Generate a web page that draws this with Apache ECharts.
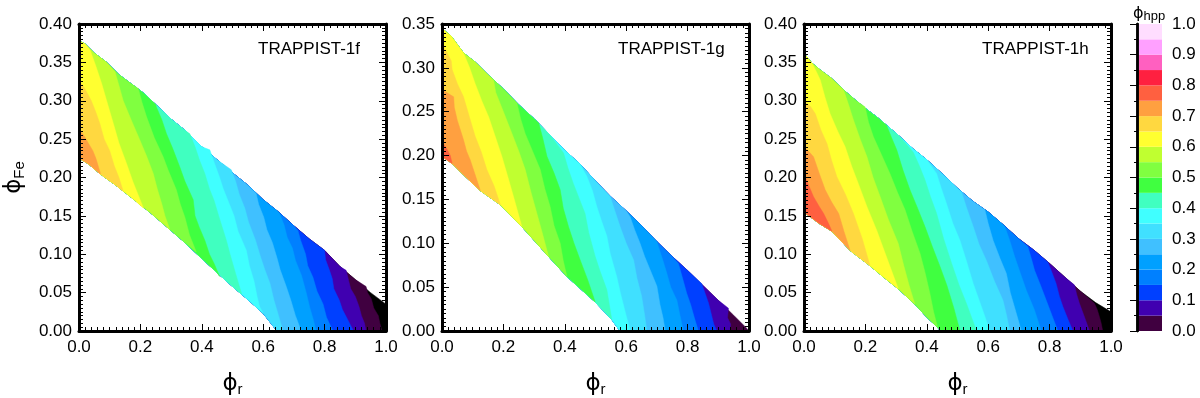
<!DOCTYPE html>
<html>
<head>
<meta charset="utf-8">
<style>html,body{margin:0;padding:0;background:#fff}#main{width:1200px;height:398px}</style>
<script src="https://cdn.jsdelivr.net/npm/echarts@6/dist/echarts.min.js"></script>
</head>
<body>
<div id="main"></div>
<script>
// phi_hpp colour bands, bottom to top of the colour bar
var bandLevels = [0, 0.05, 0.1, 0.15, 0.2, 0.25, 0.3, 0.35, 0.4, 0.45, 0.5, 0.55, 0.6, 0.65, 0.7, 0.75, 0.8, 0.85, 0.9, 0.95];
var bandColors = ['#400040', '#4000b0', '#0040ff', '#0080ff', '#00a0ff', '#40c0ff', '#40e0ff', '#40ffff', '#40ffc0', '#40ff40',
    '#80ff40', '#c0ff30', '#ffff30', '#ffd840', '#ffa040', '#ff6040', '#ff2040', '#ff60c0', '#ffa0ff', '#ffddff'];
var belowRangeColor = '#000000';

// ===== TRAPPIST-1f =====
var fUpper = [[0, .378], [.02, .374], [.05, .362], [.09, .35], [.13, .334], [.17, .322], [.21, .31], [.25, .295], [.3, .276], [.35, .26], [.4, .24], [.45, .223],
    [.5, .206], [.55, .19], [.6, .171], [.65, .155], [.7, .137], [.75, .12], [.8, .105], [.85, .084], [.9, .067], [.95, .05], [1, .035]];
var fLower = [[0, .225], [.03, .218], [.068, .205], [.12, .19], [.177, .172], [.23, .155], [.285, .136], [.34, .117], [.393, .097], [.45, .076], [.5, .058], [.55, .041], [.6, .023], [.645, 0]];
var fContours = [
    [-.05, [[1, .035], [1, 0]]],
    [0, [[.935, .058], [.94, .05], [.952, .042], [.96, .03], [.975, .02], [.98, .01], [.987, 0]]],
    [.05, [[.87, .079], [.878, .066], [.885, .055], [.9, .045], [.912, .032], [.92, .02], [.93, .01], [.935, 0]]],
    [.1, [[.8, .105], [.803, .093], [.815, .08], [.825, .068], [.83, .055], [.848, .04], [.858, .028], [.875, .015], [.894, 0]]],
    [.15, [[.713, .131], [.722, .118], [.738, .1], [.745, .085], [.762, .07], [.775, .052], [.795, .035], [.806, .018], [.827, 0]]],
    [.2, [[.653, .153], [.668, .138], [.678, .122], [.695, .108], [.705, .092], [.725, .072], [.74, .05], [.752, .03], [.763, .015], [.772, 0]]],
    [.25, [[.577, .179], [.585, .165], [.602, .148], [.612, .132], [.63, .115], [.645, .095], [.655, .08], [.675, .058], [.69, .04], [.705, .02], [.724, 0]]],
    [.3, [[.496, .21], [.51, .195], [.522, .178], [.54, .16], [.552, .142], [.575, .118], [.59, .098], [.605, .08], [.622, .062], [.635, .04], [.65, .02], [.664, 0]]],
    [.35, [[.426, .236], [.44, .22], [.458, .2], [.47, .185], [.49, .165], [.505, .15], [.518, .13], [.545, .105], [.555, .085], [.57, .065], [.58, .045], [.588, .032], [.6, .023]]],
    [.4, [[.361, .257], [.378, .24], [.393, .222], [.41, .205], [.425, .185], [.44, .17], [.455, .15], [.48, .118], [.492, .1], [.51, .075], [.53, .048]]],
    [.45, [[.252, .292], [.27, .275], [.285, .257], [.305, .238], [.328, .214], [.345, .195], [.372, .171], [.378, .15], [.392, .135], [.41, .118], [.425, .1], [.44, .088], [.458, .071]]],
    [.5, [[.193, .316], [.205, .298], [.22, .279], [.245, .252], [.274, .227], [.29, .21], [.317, .184], [.33, .165], [.345, .148], [.36, .125], [.382, .103]]],
    [.55, [[.117, .338], [.13, .32], [.144, .3], [.17, .275], [.198, .249], [.22, .228], [.242, .205], [.255, .185], [.27, .165], [.28, .15], [.296, .132]]],
    [.6, [[.036, .366], [.055, .345], [.074, .322], [.09, .3], [.112, .27], [.13, .245], [.155, .218], [.175, .195], [.195, .175], [.21, .16]]],
    [.65, [[0, .327], [.02, .315], [.04, .3], [.055, .285], [.068, .27], [.082, .25], [.1, .235], [.115, .215], [.13, .2], [.144, .182]]],
    [.7, [[0, .264], [.02, .252], [.03, .245], [.045, .235], [.055, .225], [.07, .205]]]
];

// ===== TRAPPIST-1g =====
var gUpper = [[0, .345], [.03, .336], [.07, .317], [.11, .306], [.15, .292], [.2, .276], [.25, .258], [.3, .242], [.35, .224], [.4, .206], [.45, .19], [.5, .171],
    [.55, .153], [.6, .137], [.65, .12], [.7, .102], [.75, .085], [.8, .069], [.85, .052], [.9, .035], [.95, .018], [.99, .004], [1, 0]];
var gLower = [[0, .199], [.033, .191], [.07, .178], [.125, .16], [.19, .144], [.26, .119], [.347, .085], [.407, .062], [.499, .033], [.553, .013], [.58, 0]];
var gContours = [
    [0, [[1, 0]]],
    [.05, [[.933, .026], [.93, .015], [.94, .008], [.938, 0]]],
    [.1, [[.846, .054], [.858, .042], [.868, .032], [.878, .018], [.885, .008], [.895, 0]]],
    [.15, [[.77, .077], [.782, .062], [.797, .043], [.81, .03], [.822, .015], [.835, 0]]],
    [.2, [[.705, .096], [.718, .082], [.732, .066], [.745, .05], [.765, .035], [.775, .018], [.786, 0]]],
    [.25, [[.613, .13], [.628, .115], [.645, .1], [.66, .085], [.7, .051], [.71, .03], [.72, .015], [.727, 0]]],
    [.3, [[.548, .153], [.562, .138], [.58, .119], [.6, .1], [.624, .081], [.635, .06], [.65, .04], [.66, .018], [.667, 0]]],
    [.35, [[.472, .176], [.49, .16], [.504, .142], [.52, .125], [.537, .108], [.548, .088], [.569, .062], [.582, .042], [.598, .02], [.613, 0]]],
    [.4, [[.396, .203], [.41, .186], [.428, .168], [.448, .15], [.466, .134], [.478, .112], [.499, .085], [.515, .068], [.537, .047], [.545, .03], [.553, .013]]],
    [.45, [[.315, .237], [.328, .22], [.342, .199], [.365, .18], [.385, .161], [.395, .14], [.412, .119], [.43, .1], [.45, .081], [.475, .058], [.499, .033]]],
    [.5, [[.244, .26], [.256, .242], [.271, .225], [.295, .205], [.32, .184], [.335, .162], [.352, .142], [.365, .12], [.385, .1], [.395, .08], [.407, .062]]],
    [.55, [[.168, .286], [.175, .272], [.2, .25], [.228, .225], [.25, .205], [.271, .184], [.29, .158], [.309, .134], [.328, .11], [.347, .085]]],
    [.6, [[.07, .317], [.09, .3], [.108, .282], [.13, .262], [.152, .244], [.175, .22], [.195, .199], [.215, .175], [.233, .153], [.26, .119]]],
    [.65, [[0, .328], [.03, .308], [.033, .298], [.05, .282], [.07, .267], [.09, .243], [.108, .222], [.128, .204], [.146, .184], [.17, .165], [.19, .144]]],
    [.7, [[0, .275], [.038, .267], [.04, .255], [.05, .24], [.07, .218], [.08, .205], [.092, .195], [.108, .178], [.125, .16]]],
    [.75, [[0, .216], [.015, .208], [.027, .2], [.033, .191]]]
];

// ===== TRAPPIST-1h =====
var hUpper = [[0, .3615], [.026, .349], [.053, .34], [.09, .329], [.129, .314], [.17, .3], [.2, .29], [.24, .278], [.269, .268], [.31, .254], [.356, .237], [.4, .223], [.45, .205], [.5, .186],
    [.55, .169], [.6, .155], [.65, .138], [.7, .12], [.75, .105], [.8, .088], [.85, .07], [.9, .052], [.95, .037], [1, .025]];
var hLower = [[0, .155], [.05, .14], [.091, .13], [.15, .105], [.215, .085], [.26, .07], [.307, .055], [.361, .035], [.4, .018], [.432, .006], [.445, 0]];
var hContours = [
    [-.05, [[1, .025], [1, 0]]],
    [0, [[.946, .036], [.955, .028], [.962, .019], [.968, .01], [.973, 0]]],
    [.05, [[.881, .06], [.888, .048], [.897, .036], [.912, .02], [.93, 0]]],
    [.1, [[.794, .09], [.808, .076], [.821, .062], [.832, .045], [.843, .032], [.86, .015], [.876, 0]]],
    [.15, [[.729, .11], [.74, .095], [.751, .079], [.77, .06], [.789, .04], [.808, .02], [.827, 0]]],
    [.2, [[.654, .136], [.67, .118], [.686, .097], [.705, .075], [.724, .053], [.75, .028], [.773, 0]]],
    [.25, [[.589, .158], [.6, .14], [.616, .118], [.638, .095], [.659, .075], [.672, .05], [.69, .025], [.708, 0]]],
    [.3, [[.513, .181], [.53, .16], [.551, .136], [.57, .113], [.594, .092], [.62, .065], [.648, .04], [.66, .02], [.67, 0]]],
    [.35, [[.432, .205], [.447, .186], [.464, .166], [.485, .14], [.508, .118], [.53, .09], [.551, .062], [.575, .035], [.59, .018], [.605, 0]]],
    [.4, [[.356, .233], [.376, .215], [.394, .197], [.412, .175], [.432, .153], [.455, .12], [.481, .088], [.505, .06], [.53, .035], [.562, 0]]],
    [.45, [[.269, .268], [.285, .252], [.302, .236], [.322, .21], [.345, .184], [.37, .16], [.394, .136], [.418, .11], [.443, .084], [.465, .06], [.488, .03], [.508, 0]]],
    [.5, [[.199, .292], [.21, .272], [.226, .253], [.252, .23], [.28, .205], [.305, .18], [.329, .158], [.352, .13], [.378, .101], [.395, .075], [.41, .049], [.422, .025], [.435, .005]]],
    [.55, [[.129, .314], [.145, .295], [.161, .275], [.183, .25], [.205, .227], [.225, .2], [.248, .175], [.275, .145], [.307, .114], [.325, .085], [.342, .06], [.361, .035]]],
    [.6, [[.026, .349], [.04, .338], [.053, .327], [.068, .305], [.085, .283], [.11, .26], [.134, .24], [.155, .215], [.177, .192], [.205, .162], [.237, .131], [.27, .095], [.307, .055]]],
    [.65, [[0, .3], [.02, .293], [.037, .283], [.055, .262], [.075, .244], [.09, .222], [.107, .201], [.135, .178], [.161, .153], [.19, .12], [.215, .085]]],
    [.7, [[0, .24], [.02, .232], [.031, .227], [.05, .205], [.069, .184], [.09, .168], [.113, .153], [.13, .13], [.15, .105]]],
    [.75, [[0, .205], [.015, .19], [.031, .175], [.05, .162], [.064, .153], [.08, .14], [.091, .13]]]
];

var panelNames = ['TRAPPIST-1f', 'TRAPPIST-1g', 'TRAPPIST-1h'];
var yMaxes = [0.4, 0.35, 0.4];

var font = 'Liberation Sans';
var greek = 'DejaVu Sans';
var gridLefts = [79, 442, 804];
var nameLefts = [258, 618, 982];
var nameRich = {
    p: { fontFamily: greek, fontSize: 23, color: '#000', fontWeight: 'normal' },
    s: { fontFamily: font, fontSize: 15, color: '#000', fontWeight: 'normal', padding: [10, 0, 0, 0] }
};

function axisBase(showLabel, major, minorSplit) {
    return {
        type: 'value',
        min: 0,
        z: 5,
        interval: major,
        axisLine: { show: true, onZero: false, lineStyle: { color: '#000', width: 3 } },
        axisTick: { show: true, inside: true, length: 7, lineStyle: { color: '#000', width: 1 } },
        minorTick: { show: true, splitNumber: minorSplit, length: 4, lineStyle: { color: '#000', width: 1 } },
        splitLine: { show: false },
        axisLabel: { show: showLabel, color: '#000', fontFamily: font, fontSize: 17 }
    };
}

// region left of a contour: upper edge up to the contour, the contour, then lower edge back
function leftRegion(upper, lower, line) {
    var first = line[0], last = line[line.length - 1];
    var top = upper.filter(function (p) { return p[0] < first[0]; });
    var bottom = lower.filter(function (p) { return p[0] < last[0]; }).reverse();
    return top.concat(line, bottom);
}

function bandSeries(i, upper, lower, contours) {
    return {
        type: 'custom',
        xAxisIndex: i * 2,
        yAxisIndex: i * 2,
        z: 2,
        silent: true,
        data: contours.map(function (c) { return [c[0]]; }),
        encode: { x: -1, y: -1 },
        renderItem: function (params, api) {
            var c = contours[params.dataIndex];
            var color = c[0] < 0 ? belowRangeColor : bandColors[Math.round(c[0] * 20)];
            var pts = leftRegion(upper, lower, c[1]).map(function (p) { return api.coord(p); });
            return { type: 'polygon', shape: { points: pts }, style: { fill: color, stroke: color, lineWidth: 0.5 } };
        }
    };
}

var grids = [], xAxes = [], yAxes = [], titles = [];
gridLefts.forEach(function (left, i) {
    grids.push({ left: left, top: 24, width: 307, height: 307, outerBoundsMode: 'none' });
    var xa = axisBase(true, 0.2, 10);
    xa.max = 1; xa.gridIndex = i; xa.position = 'bottom';
    xa.axisLabel.margin = 8;
    xa.axisLabel.formatter = function (v) { return v.toFixed(1); };
    xa.name = '{p|\u03d5}{s|r}';
    xa.nameLocation = 'middle';
    xa.nameGap = 41;
    xa.nameTextStyle = { rich: nameRich };
    var xb = axisBase(false, 0.2, 10);
    xb.max = 1; xb.gridIndex = i; xb.position = 'top';
    xAxes.push(xa, xb);

    var ya = axisBase(true, 0.05, 10);
    ya.max = yMaxes[i]; ya.gridIndex = i; ya.position = 'left';
    ya.axisLabel.margin = 7;
    ya.axisLabel.formatter = function (v) { return v.toFixed(2); };
    if (i === 0) {
        ya.name = '{p|\u03d5}{s|Fe}';
        ya.nameLocation = 'middle';
        ya.nameGap = 52;
        ya.nameTextStyle = { rich: nameRich };
    }
    var yb = axisBase(false, 0.05, 10);
    yb.max = yMaxes[i]; yb.gridIndex = i; yb.position = 'right';
    yAxes.push(ya, yb);

    titles.push({ text: panelNames[i], left: nameLefts[i], top: 41, padding: 0, textStyle: { color: '#000', fontFamily: font, fontSize: 17, fontWeight: 'normal' } });
});

// colour bar
grids.push({ left: 1137, top: 24, width: 25, height: 307, outerBoundsMode: 'none' });
xAxes.push({ type: 'value', gridIndex: 3, min: 0, max: 1, show: false });
yAxes.push({
    type: 'value', gridIndex: 3, min: 0, max: 1, interval: 0.1, position: 'right', z: 5,
    axisLine: { show: true, lineStyle: { color: '#000', width: 2.5 } },
    axisTick: { show: true, inside: true, length: 7, lineStyle: { color: '#000', width: 1 } },
    minorTick: { show: true, splitNumber: 2, length: 3, lineStyle: { color: '#000', width: 1 } },
    splitLine: { show: false },
    axisLabel: { color: '#000', fontFamily: font, fontSize: 17, margin: 10, formatter: function (v) { return v.toFixed(1); } }
});
yAxes.push({
    type: 'value', gridIndex: 3, min: 0, max: 1, position: 'left', z: 5,
    axisLine: { show: true, lineStyle: { color: '#000', width: 2.5 } },
    axisTick: { show: false }, axisLabel: { show: false }, splitLine: { show: false }
});
titles.push({
    text: '{p|\u03d5}{s|hpp}', left: 1133, top: 4, padding: 0,
    textStyle: {
        fontWeight: 'normal',
        rich: {
            p: { fontFamily: greek, fontSize: 16, color: '#000', fontWeight: 'normal' },
            s: { fontFamily: font, fontSize: 13, color: '#000', fontWeight: 'normal', padding: [6, 0, 0, 0] }
        }
    }
});

var barSeries = {
    type: 'custom',
    xAxisIndex: xAxes.length - 1,
    yAxisIndex: yAxes.length - 2,
    z: 2,
    silent: true,
    data: bandLevels.map(function (v) { return [v]; }),
    encode: { x: -1, y: -1 },
    renderItem: function (params, api) {
        var lo = bandLevels[params.dataIndex];
        var a = api.coord([0, lo + 0.05]);
        var b = api.coord([1, lo]);
        return { type: 'rect', shape: { x: a[0], y: a[1], width: b[0] - a[0], height: b[1] - a[1] }, style: { fill: bandColors[params.dataIndex] } };
    }
};

var chart = echarts.init(document.getElementById('main'), null, { renderer: 'canvas' });
chart.setOption({
    animation: false,
    backgroundColor: '#fff',
    title: titles,
    grid: grids,
    xAxis: xAxes,
    yAxis: yAxes,
    series: [
        bandSeries(0, fUpper, fLower, fContours),
        bandSeries(1, gUpper, gLower, gContours),
        bandSeries(2, hUpper, hLower, hContours),
        barSeries
    ]
});
</script>
</body>
</html>
